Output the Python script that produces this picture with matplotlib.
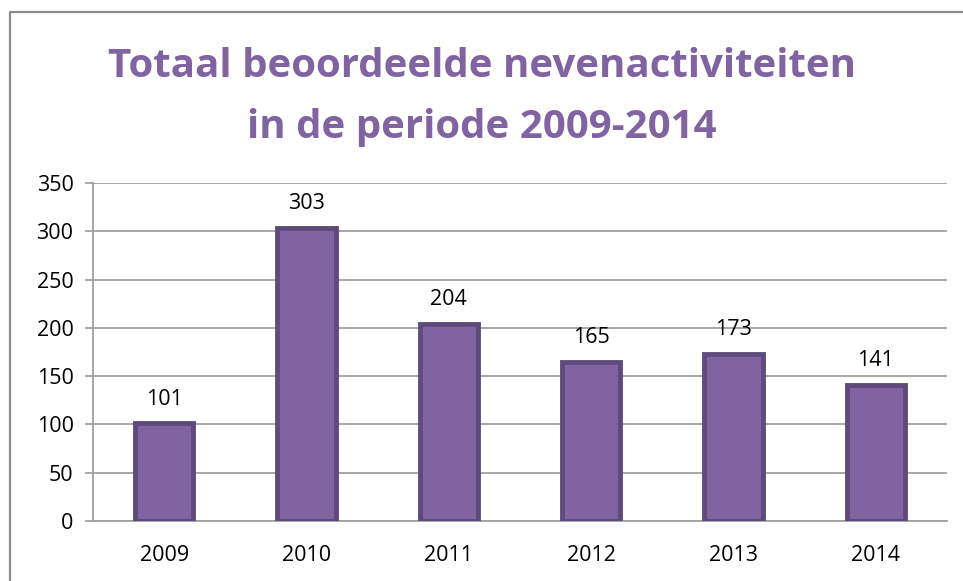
import matplotlib
matplotlib.use("Agg")
import matplotlib.pyplot as plt
from matplotlib.lines import Line2D

years = ["2009", "2010", "2011", "2012", "2013", "2014"]
values = [101, 303, 204, 165, 173, 141]
yticks = [0, 50, 100, 150, 200, 250, 300, 350]
title = "Totaal beoordeelde nevenactiviteiten\nin de periode 2009-2014"

W, H = 963, 581
fig = plt.figure(figsize=(W / 100, H / 100), dpi=100)
fig.patch.set_facecolor("white")

# outer border (clipped at right and bottom)
fig.add_artist(Line2D([10 / W, 10 / W, 1.0], [0.0, 1 - 12 / H, 1 - 12 / H],
                      transform=fig.transFigure, color="#8c8c8c", lw=1.6))

ax = fig.add_axes([93 / W, 1 - 521 / H, (947 - 93) / W, (521 - 183) / H])
x = range(len(years))
ax.bar(x, values, width=0.41, color="#8064A2", edgecolor="#5E4B7C", linewidth=3.5, zorder=3)
for xi, v in zip(x, values):
    ax.annotate(str(v), (xi, v), xytext=(0, 10), textcoords="offset points",
                ha="center", va="bottom", fontsize=15.5, family="Open Sans", color="black")

ax.set_xlim(-0.5, len(years) - 0.5)
ax.set_ylim(0, 350)
ax.set_yticks(yticks)
ax.set_xticks(list(x))
ax.set_xticklabels(years)
ax.yaxis.grid(True, color="#a0a0a0", lw=1.3, zorder=0)
for s in ["top", "right"]:
    ax.spines[s].set_visible(False)
ax.spines["left"].set_color("#a0a0a0")
ax.spines["left"].set_linewidth(1.3)
ax.spines["bottom"].set_color("#a0a0a0")
ax.spines["bottom"].set_linewidth(1.3)
ax.tick_params(axis="y", length=6, width=1.3, color="#a0a0a0", labelsize=15.5, pad=8)
ax.tick_params(axis="x", length=0, labelsize=15.5, pad=17)
for lab in ax.get_xticklabels() + ax.get_yticklabels():
    lab.set_family("Open Sans")

fig.text(0.5, 1 - 97 / H, title, ha="center", va="center", fontsize=29,
         fontweight="bold", color="#8064A2", family="Open Sans", linespacing=1.72)

fig.savefig("out.png", dpi=100)
